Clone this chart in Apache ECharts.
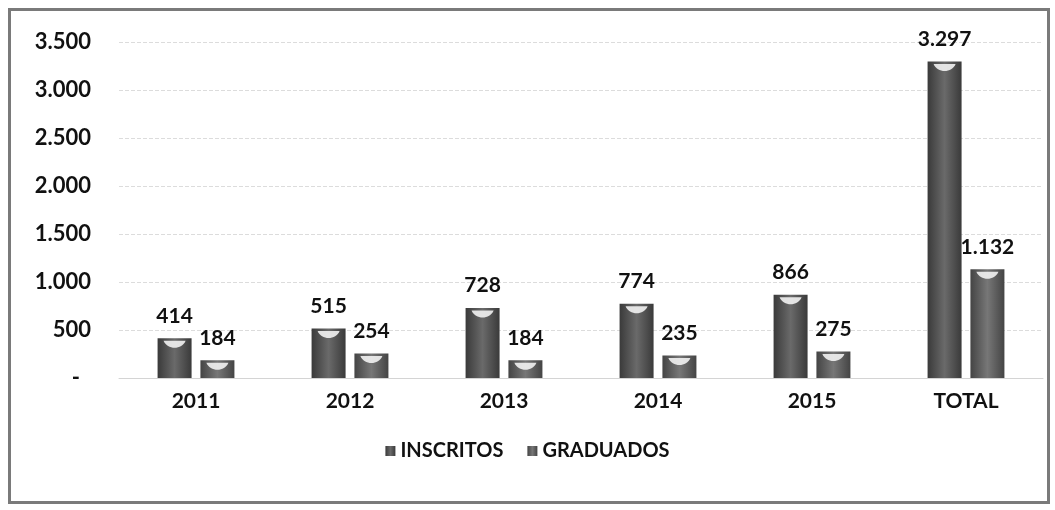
<!DOCTYPE html>
<html>
<head>
<meta charset="utf-8">
<script src="https://cdn.jsdelivr.net/npm/echarts@6/dist/echarts.min.js"></script>
<style>
  html, body { margin: 0; padding: 0; background: #fff; }
  #frame {
    position: absolute; left: 8px; top: 8px; width: 1036px; height: 490px;
    border: 3px solid #7a7a7a; background: #fff;
  }
  #main { position: absolute; left: 0; top: 0; width: 1055px; height: 510px; }
</style>
</head>
<body>
<div id="frame"></div>
<div id="main"></div>
<script>
// datos
var categories = ['2011', '2012', '2013', '2014', '2015', 'TOTAL']
var inscritos = [414, 515, 728, 774, 866, 3297]
var graduados = [184, 254, 184, 235, 275, 1132]
var yTicks = [0, 500, 1000, 1500, 2000, 2500, 3000, 3500]

function fmt(v) {
  if (v === 0) return '-'
  return String(v).replace(/\B(?=(\d{3})+(?!\d))/g, '.')
}

function barColor(edge, mid) {
  return new echarts.graphic.LinearGradient(0, 0, 1, 0, [
    { offset: 0, color: edge },
    { offset: 0.5, color: mid },
    { offset: 1, color: edge }
  ])
}

// brillo blanco en la parte alta de cada barra
var shine = 'path://M0,0 L24,0 C20,8 4,8 0,0 Z'

var chart = echarts.init(document.getElementById('main'), null, { renderer: 'canvas' })
var font = 'Lato, "Open Sans", sans-serif'
var labelText = { fontFamily: font, fontWeight: 'bold', fontSize: 21, color: '#111' }

chart.setOption({
  animation: false,
  textStyle: { fontFamily: font },
  grid: {
    left: 119,
    right: 12,
    top: 42,
    bottom: 132
  },
  legend: {
    data: ['INSCRITOS', 'GRADUADOS'],
    left: 'center',
    top: 436,
    icon: 'rect',
    itemWidth: 10,
    itemHeight: 10,
    itemGap: 24,
    textStyle: { fontFamily: font, fontWeight: 'bold', fontSize: 20, color: '#111' }
  },
  xAxis: {
    type: 'category',
    data: categories,
    axisTick: { show: false },
    axisLine: { lineStyle: { color: '#d4d4d4' } },
    axisLabel: Object.assign({ margin: 13 }, labelText)
  },
  yAxis: {
    type: 'value',
    min: yTicks[0],
    max: yTicks[yTicks.length - 1],
    interval: 500,
    axisLine: { show: false },
    axisTick: { show: false },
    splitLine: { lineStyle: { color: '#dcdcdc', type: 'dashed' } },
    axisLabel: Object.assign({}, labelText, {
      margin: 28,
      fontSize: 22,
      formatter: function (v) { return v === 0 ? '{d|-}' : fmt(v) },
      rich: {
        d: { fontFamily: font, fontWeight: 'bold', fontSize: 22, color: '#111', padding: [0, 11, 0, 0] }
      }
    })
  },
  series: [
    {
      name: 'INSCRITOS',
      type: 'bar',
      data: inscritos,
      barWidth: 34,
      barGap: '26%',
      itemStyle: { color: barColor('#3a3a3a', '#6a6a6a') },
      label: Object.assign({
        show: true,
        position: 'top',
        distance: 12,
        formatter: function (p) { return fmt(p.value) }
      }, labelText)
    },
    {
      name: 'GRADUADOS',
      type: 'bar',
      data: graduados,
      barWidth: 34,
      itemStyle: { color: barColor('#444444', '#777777') },
      label: Object.assign({
        show: true,
        position: 'top',
        distance: 12,
        formatter: function (p) { return fmt(p.value) }
      }, labelText)
    },
    {
      type: 'scatter',
      data: inscritos,
      symbol: shine,
      symbolSize: [22, 7],
      symbolOffset: [-21.4, 6],
      itemStyle: { color: '#f2f2f2', opacity: 0.9 },
      silent: true,
      z: 3
    },
    {
      type: 'scatter',
      data: graduados,
      symbol: shine,
      symbolSize: [22, 7],
      symbolOffset: [21.4, 6],
      itemStyle: { color: '#f2f2f2', opacity: 0.9 },
      silent: true,
      z: 3
    }
  ]
})
</script>
</body>
</html>
